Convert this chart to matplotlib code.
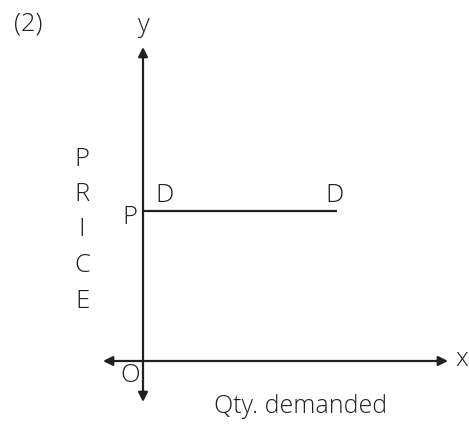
import matplotlib

matplotlib.use("Agg")
import matplotlib.pyplot as plt

# Perfectly elastic demand: horizontal line D-D at price P
demand_qty = [0, 194]
demand_price = [150, 150]
price_letters = ["P", "R", "I", "C", "E"]

INK = "#231f20"
plt.rcParams["font.family"] = ["Open Sans", "DejaVu Sans"]
plt.rcParams["font.weight"] = "light"

fig = plt.figure(figsize=(4.69, 4.24), dpi=100)
ax = fig.add_axes([0, 0, 1, 1])
# data origin sits where the axes cross; one unit ~ one pixel
ax.set_xlim(-143, 326)
ax.set_ylim(-63, 361)
ax.axis("off")

arrow = dict(arrowstyle="<|-|>", color=INK, lw=1.6, mutation_scale=14,
             shrinkA=0, shrinkB=0)
ax.annotate("", xy=(0, 314), xytext=(0, -41), arrowprops=arrow)   # y axis
ax.annotate("", xy=(305, 0), xytext=(-40, 0), arrowprops=arrow)   # x axis

ax.plot(demand_qty, demand_price, color=INK, lw=1.6, solid_capstyle="butt")

fs = 18.5
ax.text(-115, 337, "(2)", fontsize=fs, ha="center", va="center", color=INK)
ax.text(0, 335, "y", fontsize=fs, ha="center", va="center", color=INK)
ax.text(319, 1, "x", fontsize=fs, ha="center", va="center", color=INK)
ax.text(-13, -15, "O", fontsize=fs, ha="center", va="center", color=INK)
ax.text(158, -52, "Qty. demanded", fontsize=18, ha="center", va="baseline", color=INK)
ax.text(-13, 143, "P", fontsize=fs, ha="center", va="center", color=INK)
ax.text(demand_qty[0] + 22, demand_price[0] + 16, "D", fontsize=fs,
        ha="center", va="center", color=INK)
ax.text(demand_qty[1] - 3, demand_price[1] + 16, "D", fontsize=fs,
        ha="center", va="center", color=INK)

for i, ch in enumerate(price_letters):
    ax.text(-61, 202 - i * 35.5, ch, fontsize=fs, ha="center", va="center", color=INK)

fig.savefig("out.png", dpi=100)
